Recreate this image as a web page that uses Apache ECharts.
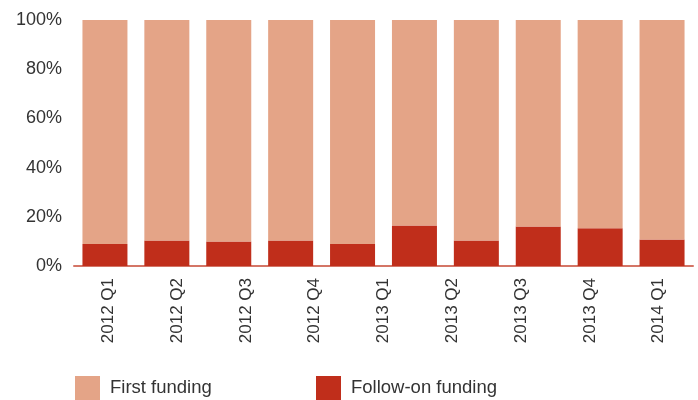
<!DOCTYPE html>
<html>
<head>
<meta charset="utf-8">
<script src="https://cdn.jsdelivr.net/npm/echarts@6/dist/echarts.min.js"></script>
<style>
  html, body { margin: 0; padding: 0; background: #fff; }
  #chart { width: 698px; height: 400px; }
</style>
</head>
<body>
<div id="chart"></div>
<script>
// 数据
var barSlots = ['b1', 'b2', 'b3', 'b4', 'b5', 'b6', 'b7', 'b8', 'b9', 'b10'];
var quarterLabels = ['2012 Q1', '2012 Q2', '2012 Q3', '2012 Q4', '2013 Q1', '2013 Q2', '2013 Q3', '2013 Q4', '2014 Q1'];
var followOn = [8.9, 10.4, 10.0, 10.4, 8.9, 16.5, 10.4, 16.1, 15.3, 10.8];
var firstFunding = [91.1, 89.6, 90.0, 89.6, 91.1, 83.5, 89.6, 83.9, 84.7, 89.2];
var yTicks = [0, 20, 40, 60, 80, 100];

var textColor = '#333333';
var font = 'Liberation Sans';

var myChart = echarts.init(document.getElementById('chart'));
var option = {
    animation: false,
    grid: { left: 74, right: 5, top: 20, bottom: 134 },
    legend: [
        {
            left: 70, top: 371,
            icon: 'rect',
            itemWidth: 25, itemHeight: 24,
            data: ['First funding'],
            textStyle: { fontFamily: font, fontSize: 18.5, color: textColor, padding: [0, 0, 0, 5] }
        },
        {
            left: 311, top: 371,
            icon: 'rect',
            itemWidth: 25, itemHeight: 24,
            data: ['Follow-on funding'],
            textStyle: { fontFamily: font, fontSize: 18.5, color: textColor, padding: [0, 0, 0, 5] }
        }
    ],
    xAxis: [
        {
            type: 'category',
            data: barSlots,
            axisLine: { lineStyle: { color: '#d47566', width: 2 } },
            axisTick: { show: false },
            axisLabel: { show: false }
        },
        {
            type: 'category',
            data: quarterLabels,
            position: 'bottom',
            axisLine: { show: false },
            axisTick: { show: false },
            axisLabel: {
                rotate: 90,
                margin: 12,
                fontFamily: font,
                fontSize: 17,
                color: textColor
            }
        }
    ],
    yAxis: {
        type: 'value',
        min: yTicks[0],
        max: yTicks[yTicks.length - 1],
        interval: 20,
        splitLine: { show: false },
        axisLine: { show: false },
        axisTick: { show: false },
        axisLabel: {
            formatter: '{value}%',
            margin: 12,
            fontFamily: font,
            fontSize: 18,
            color: textColor
        }
    },
    series: [
        {
            name: 'Follow-on funding',
            type: 'bar',
            stack: 'total',
            barWidth: 45,
            data: followOn,
            itemStyle: { color: '#c02e1b' }
        },
        {
            name: 'First funding',
            type: 'bar',
            stack: 'total',
            barWidth: 45,
            data: firstFunding,
            itemStyle: { color: '#e4a487' }
        }
    ]
};
myChart.setOption(option);
</script>
</body>
</html>
